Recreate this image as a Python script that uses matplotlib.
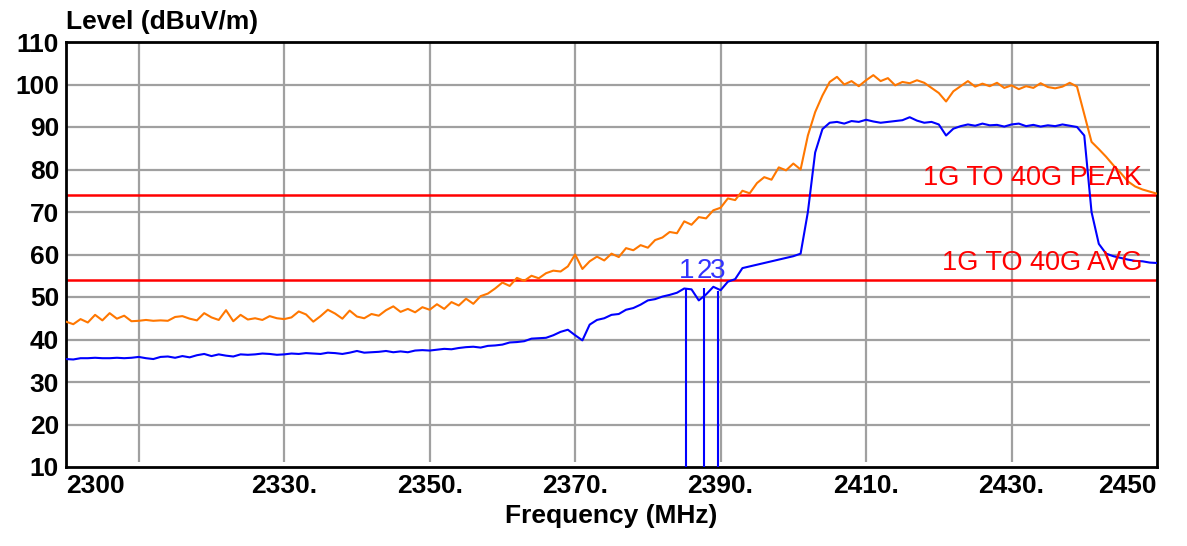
import numpy as np
import matplotlib
matplotlib.use("Agg")
import matplotlib.pyplot as plt

plt.rcParams['font.family'] = ['Liberation Sans', 'DejaVu Sans']

# sweep frequency grid (MHz), 1 MHz steps from 2300 to 2450
freq = np.arange(2300, 2451)

# peak trace (orange), dBuV/m
peak = [44.2, 43.6, 44.8, 44.0, 45.8, 44.5, 46.2, 44.9, 45.6, 44.3,
        44.4, 44.6, 44.4, 44.5, 44.4, 45.3, 45.5, 44.9, 44.5, 46.2,
        45.2, 44.6, 46.9, 44.3, 45.8, 44.7, 45.0, 44.6, 45.5, 45.0,
        44.8, 45.2, 46.6, 45.9, 44.2, 45.5, 47.0, 46.1, 44.9, 46.8,
        45.4, 45.0, 46.0, 45.6, 46.9, 47.8, 46.5, 47.2, 46.4, 47.6,
        47.0, 48.3, 47.2, 48.8, 48.0, 49.6, 48.4, 50.2, 50.8, 52.0,
        53.4, 52.6, 54.5, 53.8, 55.0, 54.4, 55.6, 56.2, 56.0, 57.2,
        60.0, 56.6, 58.4, 59.5, 58.6, 60.2, 59.4, 61.5, 61.0, 62.2,
        61.6, 63.4, 64.0, 65.3, 65.0, 67.8, 67.0, 68.8, 68.5, 70.4,
        71.0, 73.2, 72.8, 75.0, 74.4, 76.8, 78.2, 77.6, 80.5, 79.8,
        81.4, 80.0, 88.0, 93.5, 97.4, 100.6, 101.8, 100.0, 100.8, 99.6,
        101.0, 102.2, 100.8, 101.5, 99.8, 100.6, 100.3, 101.0, 100.4, 99.2,
        98.0, 96.0, 98.4, 99.6, 100.8, 99.5, 100.2, 99.6, 100.4, 99.2,
        99.8, 98.9, 99.6, 99.2, 100.3, 99.4, 99.1, 99.5, 100.4, 99.5,
        93.0, 86.5, 84.8, 83.0, 81.0, 79.2, 77.2, 76.0, 75.3, 74.8, 74.3]

# average trace (blue), dBuV/m
avg = [35.4, 35.3, 35.6, 35.6, 35.7, 35.6, 35.6, 35.7, 35.6, 35.7,
       35.9, 35.6, 35.4, 35.9, 36.0, 35.7, 36.1, 35.8, 36.3, 36.6,
       36.1, 36.5, 36.2, 36.0, 36.5, 36.4, 36.5, 36.7, 36.6, 36.4,
       36.5, 36.7, 36.6, 36.8, 36.7, 36.6, 36.9, 36.8, 36.6, 36.9,
       37.3, 36.9, 37.0, 37.1, 37.3, 37.0, 37.2, 37.0, 37.4, 37.5,
       37.4, 37.6, 37.8, 37.7, 38.0, 38.2, 38.3, 38.1, 38.5, 38.6,
       38.8, 39.3, 39.4, 39.6, 40.2, 40.3, 40.4, 41.0, 41.8, 42.3,
       41.0, 39.8, 43.5, 44.6, 45.0, 45.8, 46.0, 47.0, 47.4, 48.2,
       49.2, 49.5, 50.1, 50.5, 51.0, 52.0, 51.8, 49.2, 50.6, 52.4,
       51.6, 53.6, 54.2, 56.8, 57.2, 57.6, 58.0, 58.4, 58.8, 59.2,
       59.6, 60.2, 70.0, 84.0, 89.5, 91.0, 91.2, 90.8, 91.4, 91.2,
       91.7, 91.3, 91.0, 91.2, 91.4, 91.6, 92.3, 91.5, 91.0, 91.2,
       90.6, 88.0, 89.6, 90.2, 90.6, 90.3, 90.8, 90.4, 90.5, 90.1,
       90.6, 90.8, 90.2, 90.5, 90.1, 90.4, 90.2, 90.6, 90.3, 90.0,
       88.0, 70.0, 62.5, 60.2, 59.6, 59.2, 58.8, 58.5, 58.4, 58.1, 58.0]

# limit lines
limit_peak = 74
limit_avg = 54

# markers
marker_freqs = [2385.3, 2387.7, 2389.6]
marker_levels = [51.9, 52.2, 51.5]
marker_names = ['1', '2', '3']

x_ticks = [2300, 2330, 2350, 2370, 2390, 2410, 2430, 2450]
x_tick_labels = ['2300', '2330.', '2350.', '2370.', '2390.', '2410.', '2430.', '2450']
x_grid = [2310, 2330, 2350, 2370, 2390, 2410, 2430]
y_ticks = [10, 20, 30, 40, 50, 60, 70, 80, 90, 100, 110]

fig = plt.figure(figsize=(11.87, 5.46), dpi=100)
ax = fig.add_axes([66 / 1187, 1 - 467 / 546, (1157 - 66) / 1187, (467 - 42) / 546])

ax.set_xlim(2300, 2450)
ax.set_ylim(10, 110)

# grid
ax.vlines(x_grid, 11.2, 110, colors='#a0a0a0', linewidth=1.6, zorder=1)
ax.hlines(y_ticks[1:-1], 2300, 2449, colors='#a0a0a0', linewidth=1.6, zorder=1)

# limit lines
ax.axhline(limit_peak, color='#ff0000', linewidth=1.8, zorder=2)
ax.axhline(limit_avg, color='#ff0000', linewidth=1.8, zorder=2)

ax.plot(freq, peak, color='#ff7700', linewidth=1.5, zorder=3)
ax.plot(freq, avg, color='#0000ff', linewidth=1.5, zorder=4)

ax.vlines(marker_freqs, 10, marker_levels, colors='#0000ff', linewidth=1.5, zorder=4)
for f, name in zip(marker_freqs, marker_names):
    ax.text(f, 54.5, name, color='#3333ff', fontsize=20, ha='center', va='baseline', zorder=5)

ax.text(2448, 76.4, '1G TO 40G PEAK', color='#ff0000', fontsize=19.5,
        ha='right', va='baseline', zorder=5)
ax.text(2448, 56.4, '1G TO 40G AVG', color='#ff0000', fontsize=19.5,
        ha='right', va='baseline', zorder=5)

ax.set_xticks(x_ticks)
ax.set_xticklabels(x_tick_labels, fontsize=19, fontweight='bold')
labels = ax.get_xticklabels()
labels[0].set_ha('left')
labels[-1].set_ha('right')
ax.set_yticks(y_ticks)
ax.set_yticklabels([str(v) for v in y_ticks], fontsize=19, fontweight='bold')
ax.tick_params(length=0, pad=5)

for s in ax.spines.values():
    s.set_linewidth(2)
    s.set_color('black')

ax.set_xlabel('Frequency (MHz)', fontsize=19, fontweight='bold', labelpad=4)
fig.text(66 / 1187, 1 - 22 / 546, 'Level (dBuV/m)', fontsize=19, fontweight='bold',
         ha='left', va='center')

fig.savefig('out.png', dpi=100)
